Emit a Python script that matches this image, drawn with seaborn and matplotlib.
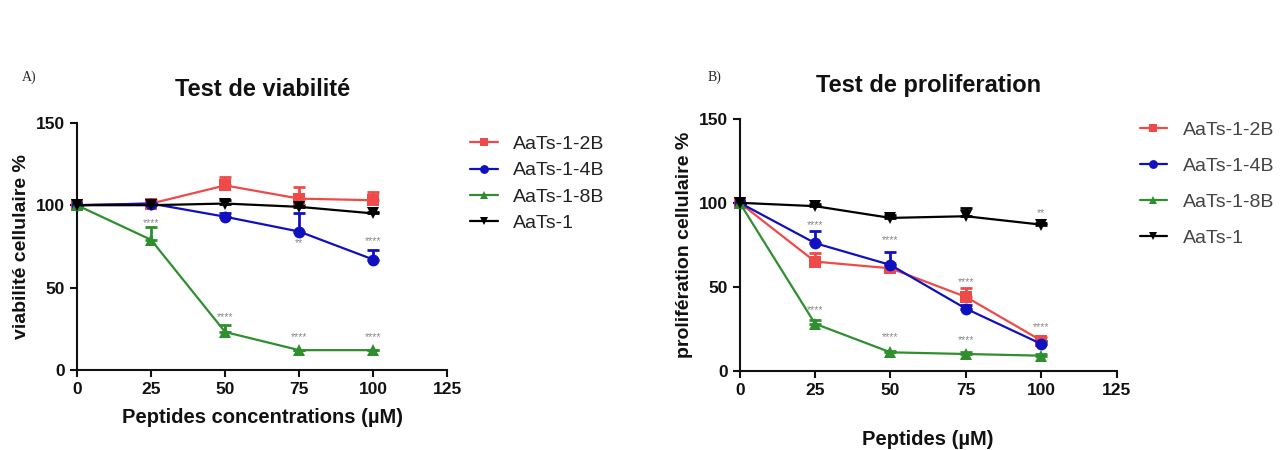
import numpy as np
import pandas as pd
import matplotlib
matplotlib.use("Agg")
import matplotlib.pyplot as plt
import seaborn as sns

sns.set_theme(style="ticks")
plt.rcParams['font.family'] = ['Liberation Sans', 'DejaVu Sans']

# Données
conc = [0, 25, 50, 75, 100]
series = ["AaTs-1-2B", "AaTs-1-4B", "AaTs-1-8B", "AaTs-1"]
colors = {"AaTs-1-2B": "#ee4a4a", "AaTs-1-4B": "#1010c0",
          "AaTs-1-8B": "#2f8f2f", "AaTs-1": "#000000"}
markers = {"AaTs-1-2B": "s", "AaTs-1-4B": "o", "AaTs-1-8B": "^", "AaTs-1": "v"}

# Test de viabilité
via_2b = [100, 101, 112, 104, 103]
via_4b = [100, 101, 93, 84, 67]
via_8b = [100, 79, 23, 12, 12]
via_1 = [100, 100, 101, 99, 95]
via_err_2b = [0, 2, 5, 7, 5]
via_err_4b = [0, 1, 2, 11, 6]
via_err_8b = [0, 8, 4, 0, 0]
via_err_1 = [0, 1, 2, 1, 1]
via_stars_x = [25, 50, 75, 100, 75, 100]
via_stars_y = [89, 32, 20, 20, 77, 78]
via_stars_txt = ["****", "****", "****", "****", "**", "****"]

# Test de proliferation
pro_2b = [100, 65, 61, 44, 18]
pro_4b = [100, 76, 63, 37, 16]
pro_8b = [100, 28, 11, 10, 9]
pro_1 = [100, 98, 91, 92, 87]
pro_err_2b = [0, 5, 3, 5, 2]
pro_err_4b = [0, 7, 8, 2, 2]
pro_err_8b = [0, 2, 1, 1, 1]
pro_err_1 = [0, 1, 2, 5, 1]
pro_stars_x = [25, 25, 50, 50, 75, 75, 100, 100]
pro_stars_y = [87, 36, 78, 20, 53, 18, 26, 94]
pro_stars_txt = ["****", "****", "****", "****", "****", "****", "****", "**"]


def long_df(vals, errs):
    rows = []
    for name, v, e in zip(series, vals, errs):
        for x, y, err in zip(conc, v, e):
            rows.append({"conc": x, "val": y, "err": err, "serie": name})
    return pd.DataFrame(rows)


df_via = long_df([via_2b, via_4b, via_8b, via_1],
                 [via_err_2b, via_err_4b, via_err_8b, via_err_1])
df_pro = long_df([pro_2b, pro_4b, pro_8b, pro_1],
                 [pro_err_2b, pro_err_4b, pro_err_8b, pro_err_1])

fig = plt.figure(figsize=(12.82, 4.5), dpi=100)
ax1 = fig.add_axes([0.060, 0.178, 0.289, 0.549])
ax2 = fig.add_axes([0.577, 0.176, 0.294, 0.560])


def draw(ax, df, sx, sy, stxt, title, xlabel, ylabel, lspace, tpad, xpad, lx, ly, lcol):
    for name in series:
        d = df[df.serie == name]
        # barres d'erreur vers le haut seulement (style GraphPad)
        ax.errorbar(d.conc, d.val, yerr=[np.zeros(len(d)), d.err], fmt="none",
                    ecolor=colors[name], elinewidth=2, capsize=4, capthick=2,
                    clip_on=False, zorder=3)
    sns.lineplot(data=df, x="conc", y="val", hue="serie", style="serie",
                 palette=colors, markers=markers, dashes=False, markersize=8.5,
                 linewidth=1.6, markeredgewidth=0, ax=ax, clip_on=False, zorder=4)
    for x, y, t in zip(sx, sy, stxt):
        ax.text(x, y, t, ha="center", va="center", fontsize=7.5, color="#888888")
    ax.set_xlim(0, 125)
    ax.set_ylim(0, 150)
    ax.set_xticks([0, 25, 50, 75, 100, 125])
    ax.set_yticks([0, 50, 100, 150])
    ax.tick_params(labelsize=12.5, width=1.5, length=5, direction="out",
                   colors="#111111")
    for lab in ax.get_xticklabels() + ax.get_yticklabels():
        lab.set_fontweight("bold")
    for s in ["left", "bottom"]:
        ax.spines[s].set_linewidth(1.5)
        ax.spines[s].set_color("#111111")
    sns.despine(ax=ax)
    ax.set_title(title, fontsize=17, fontweight="bold", pad=tpad, color="#111111")
    ax.set_xlabel(xlabel, fontsize=14.5, fontweight="bold", labelpad=xpad, color="#111111")
    ax.set_ylabel(ylabel, fontsize=14, fontweight="bold", color="#111111")
    leg = ax.legend(loc="upper left", bbox_to_anchor=(lx, ly), frameon=False,
                    fontsize=14, handlelength=1.4, labelspacing=lspace,
                    markerscale=0.75, title=None)
    for t in leg.get_texts():
        t.set_color(lcol)


draw(ax1, df_via, via_stars_x, via_stars_y, via_stars_txt,
     "Test de viabilité", "Peptides concentrations (µM)", "viabilité cellulaire %",
     0.45, 19, 8, 1.015, 1.02, "#222222")
draw(ax2, df_pro, pro_stars_x, pro_stars_y, pro_stars_txt,
     "Test de proliferation", "Peptides (µM)", "prolifération cellulaire %",
     0.95, 19, 23, 1.015, 1.06, "#444444")

fig.text(0.017, 0.82, "A)", fontsize=10, family="Liberation Serif")
fig.text(0.552, 0.82, "B)", fontsize=10, family="Liberation Serif")

fig.savefig("out.png", dpi=100)
